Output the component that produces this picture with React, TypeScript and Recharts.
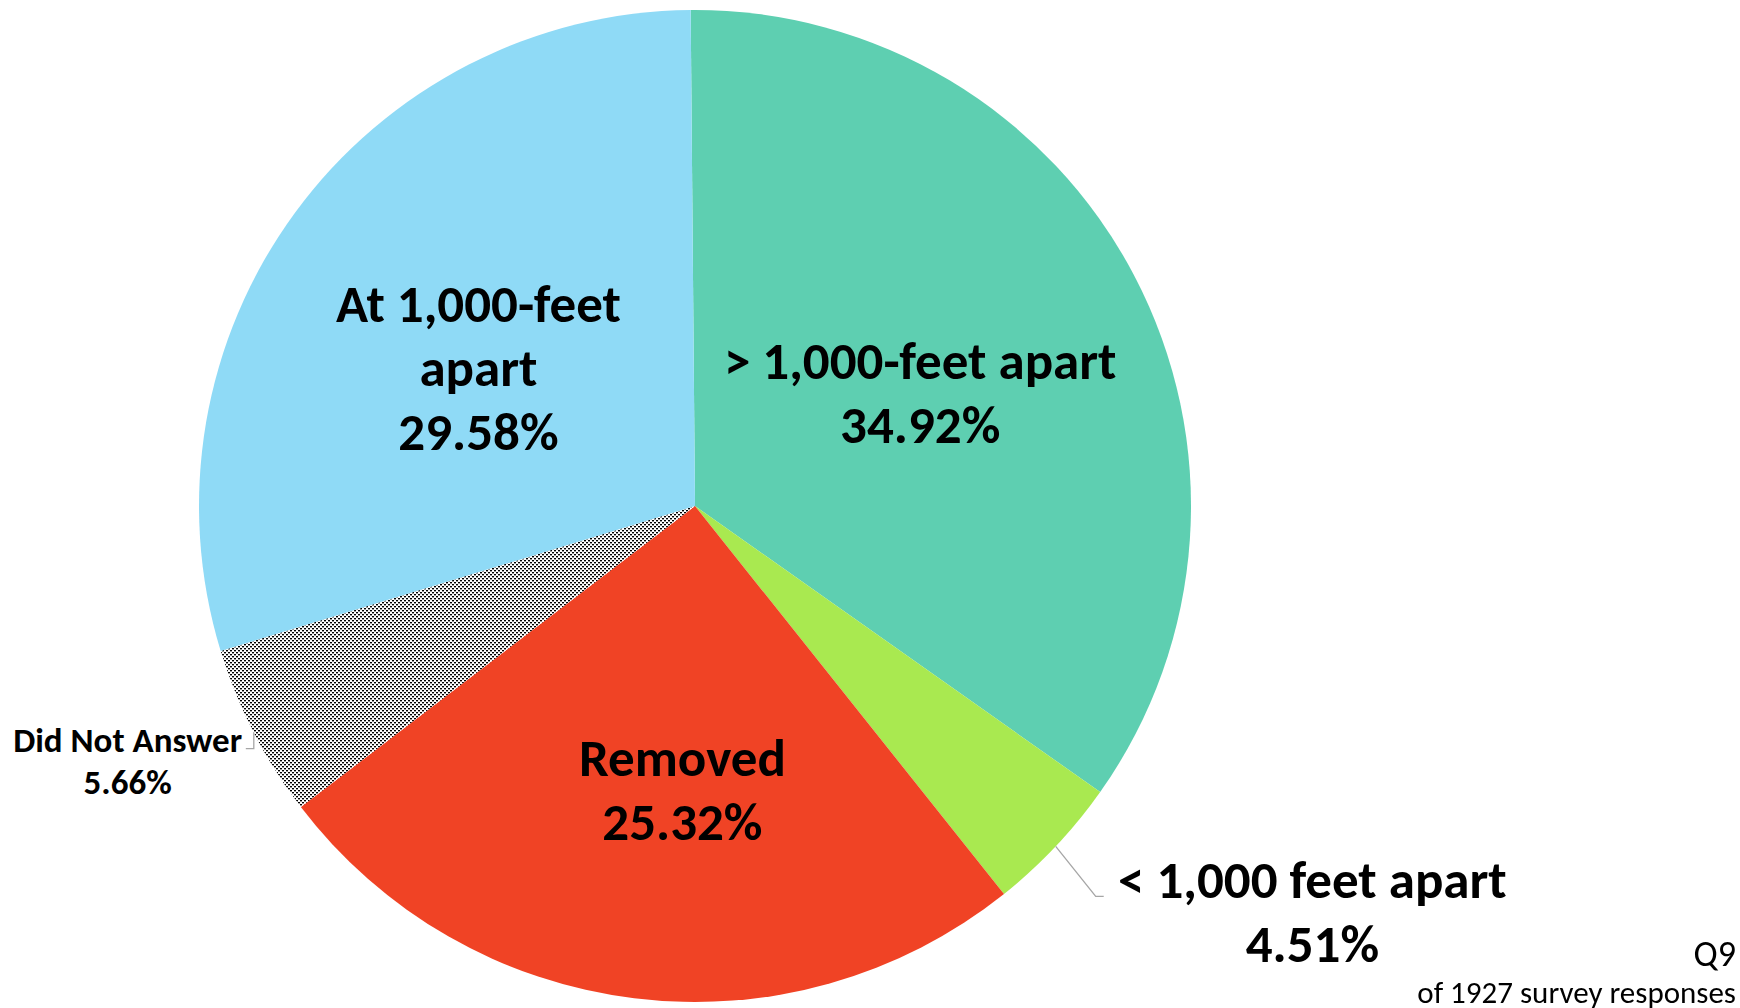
import { PieChart, Pie, Cell } from 'recharts';

const answers = ['> 1,000-feet apart', '< 1,000 feet apart', 'Removed', 'Did Not Answer', 'At 1,000-feet apart'];
const shares = [34.92, 4.51, 25.32, 5.66, 29.58];
const labelLines = [['> 1,000-feet apart'], ['< 1,000 feet apart'], ['Removed'], ['Did Not Answer'], ['At 1,000-feet', 'apart']];
const fills = ['#5ECFB1', '#A9E950', '#F04325', 'url(#dots)', '#8FDAF6'];

// label placement: radius as fraction of outer radius, angle tweak from slice middle
const place = [
  { r: 0.508, da: -1, size: 53, lh: 64 },
  { r: 1.49, da: 10, size: 53, lh: 64, elbow: [40, 50, 8] },
  { r: 0.573, da: 4.5, size: 53, lh: 64 },
  { r: 1.254, da: -3, size: 35, lh: 42, elbow: [0, 16, -8] },
  { r: 0.518, da: 3.7, size: 53, lh: 64 },
];

const data = answers.map((name, i) => ({ name, value: shares[i] }));
const RAD = Math.PI / 180;
const FONT = 'Calibri, Carlito, Lato, sans-serif';

function renderLabel(props: any) {
  const { cx, cy, midAngle, outerRadius, index } = props;
  const p = place[index];
  const a = (midAngle + p.da) * RAD;
  const x = cx + outerRadius * p.r * Math.cos(a);
  const y = cy - outerRadius * p.r * Math.sin(a);
  const lines = [...labelLines[index], `${shares[index].toFixed(2)}%`];
  const y0 = y - ((lines.length - 1) * p.lh) / 2;
  let leader = null;
  if (p.elbow) {
    const ex = cx + outerRadius * Math.cos(midAngle * RAD);
    const ey = cy - outerRadius * Math.sin(midAngle * RAD);
    const [dx, dy, h] = p.elbow;
    leader = (
      <polyline
        points={`${ex},${ey} ${ex + dx},${ey + dy} ${ex + dx + h},${ey + dy}`}
        fill="none"
        stroke="#A6A6A6"
        strokeWidth={1.3}
      />
    );
  }
  return (
    <g key={`lbl-${index}`}>
      {leader}
      <text
        x={x}
        y={y0}
        textAnchor="middle"
        dominantBaseline="central"
        fontFamily={FONT}
        fontWeight={700}
        fontSize={p.size}
        fill="#000"
      >
        {lines.map((t, k) => (
          <tspan key={k} x={x} dy={k === 0 ? 0 : p.lh}>{t}</tspan>
        ))}
      </text>
    </g>
  );
}

export default function App() {
  return (
    <div style={{ position: 'fixed', left: 0, top: 0, width: 1740, height: 1008, background: '#fff' }}>
      <PieChart width={1740} height={1008} margin={{ top: 0, right: 0, bottom: 0, left: 0 }}>
        <defs>
          <pattern id="dots" width={4} height={4} patternUnits="userSpaceOnUse">
            <rect width={4} height={4} fill="#fff" />
            <rect x={0} y={0} width={2} height={1.4} fill="#000" />
            <rect x={2} y={2} width={2} height={1.4} fill="#000" />
          </pattern>
        </defs>
        <Pie
          data={data}
          dataKey="value"
          nameKey="name"
          cx={695}
          cy={506}
          outerRadius={496}
          startAngle={90.5}
          endAngle={-269.5}
          stroke="none"
          label={renderLabel}
          labelLine={false}
          isAnimationActive={false}
        >
          {data.map((d, i) => (
            <Cell key={d.name} fill={fills[i]} />
          ))}
        </Pie>
      </PieChart>
      <div
        style={{
          position: 'absolute',
          right: 4,
          top: 936,
          textAlign: 'right',
          fontFamily: FONT,
          color: '#000',
        }}
      >
        <div style={{ fontSize: 36, lineHeight: '36px' }}>Q9</div>
        <div style={{ fontSize: 31, lineHeight: '31px', marginTop: 5 }}>of 1927 survey responses</div>
      </div>
    </div>
  );
}
